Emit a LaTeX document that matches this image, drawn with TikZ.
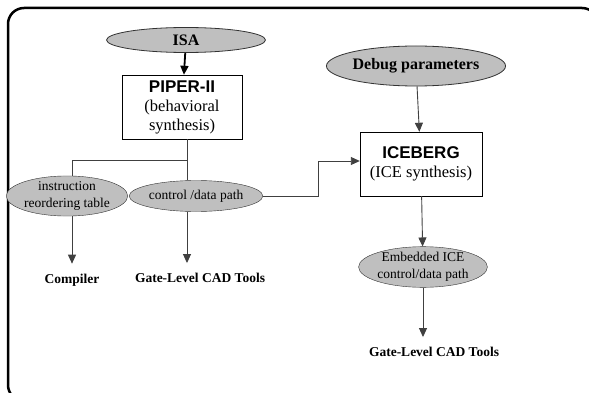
\documentclass[tikz,border=0pt]{standalone}
\usepackage{fontspec}
\setmainfont{Liberation Serif}
\newfontfamily\arialfont{Liberation Sans}
\usetikzlibrary{arrows.meta,shapes.geometric,positioning,calc}
\newcommand\srcfont{\bfseries\fontsize{16}{18}\selectfont}
\newcommand\toolfont{\arialfont\bfseries\fontsize{17}{19}\selectfont}
\newcommand\notefont{\fontsize{16.5}{19}\selectfont}
\newcommand\ellfont{\fontsize{13.5}{16.5}\selectfont}
\newcommand\outfont{\bfseries\fontsize{13.5}{15}\selectfont}

\begin{document}
\begin{tikzpicture}
          [x=1pt,y=-1pt,
          >={Triangle[width=8pt,length=9pt]},
          flow/.style={black!75,line width=0.9pt},
          feed/.style={black,line width=1.8pt},
          source/.style={ellipse,draw=black!80,fill=black!25,thick,inner sep=0pt,font=\srcfont},
          dataell/.style={ellipse,draw=black!80,fill=black!25,thin,inner sep=0pt,align=center,font=\ellfont},
          toolbox/.style={rectangle,draw=black,thin,inner sep=0pt,align=center,font=\notefont},
          outlabel/.style={inner sep=0pt,font=\outfont}
          ]
          \useasboundingbox (0,0) rectangle (589,393);
          \draw[line width=2.5pt,rounded corners=16pt] (8,8) rectangle (598,401);

          % behavioral synthesis side
          \node[source,minimum width=159,minimum height=25] (isa) at (186,40) {ISA};
          \node[toolbox,minimum width=120,minimum height=64] (piper) at (182,107)
            {{\toolfont PIPER-II}\\(behavioral\\synthesis)};
          \node[dataell,minimum width=110,minimum height=32] (instr) at (67,196)
            {instruction\\reordering table};
          \node[dataell,minimum width=108,minimum height=31] (ctrl) at (196,196) {control /data path};
          \node[outlabel] (compiler) at (72,280) {Compiler};
          \node[outlabel] (gatea) at (200,278) {Gate-Level CAD Tools};

          % ICE synthesis side
          \node[source,minimum width=156,minimum height=40] (debug) at (416,66) {Debug parameters};
          \node[toolbox,minimum width=122,minimum height=64] (iceberg) at (421,164)
            {{\toolfont ICEBERG}\\(ICE synthesis)};
          \node[dataell,minimum width=109,minimum height=33] (embed) at (423,267)
            {Embedded ICE\\control/data path};
          \node[outlabel] (gateb) at (434,352) {Gate-Level CAD Tools};

          \draw[->,feed] (isa) -- (piper);
          \coordinate (split) at ($(piper.south)+(5,21)$);
          \draw[flow] (piper.south -| split) -- (split |- ctrl.north);
          \draw[flow] (split) -| (instr.north -| compiler);
          \draw[->,flow] (instr.south -| compiler) -- ($(compiler.north)+(0,-10)$);
          \draw[->,flow] (ctrl.south -| split) -- ($(split |- gatea.north)+(0,-10)$);
          \draw[->,flow] (ctrl.east) -- ++(55,0) |- ($(iceberg.west)+(0,-3)$);

          \draw[->,flow] (debug) -- (iceberg);
          \draw[->,flow] (iceberg) -- (embed);
          \draw[->,flow] (embed.south) -- ($(embed.south |- gateb.north)+(0,-10)$);
        \end{tikzpicture}
\end{document}
